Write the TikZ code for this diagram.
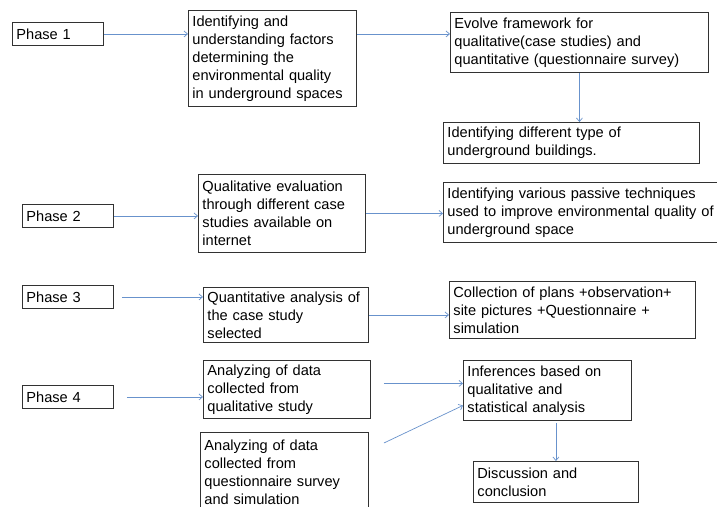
\documentclass[tikz,border=0pt]{standalone}
\usepackage{fontspec}
\setmainfont{Liberation Sans}
\definecolor{FlowBlue}{RGB}{104,146,204}
\definecolor{BoxEdge}{RGB}{50,50,50}
\usetikzlibrary{arrows.meta,positioning}
\tikzset{
	>={Straight Barb[length=3.5pt,width=6pt]},
	stage/.style={
		rectangle,
		draw=BoxEdge, line width=0.9pt,
		anchor=north west,
		align=left,
		inner xsep=4pt, inner ysep=1pt,
		font=\fontsize{14.6}{18}\selectfont},
	phasebox/.style={stage, text width=83pt, minimum height=23pt},
	flow/.style={draw=FlowBlue, line width=0.7pt, ->},
}

\begin{document}
\begin{tikzpicture}[x=1pt,y=-1pt]
\useasboundingbox[fill=white] (0,0) rectangle (717,506);
% phases
\node[phasebox] (ph1) at (12,22) {Phase 1};
\node[phasebox] (ph2) at (22,204) {Phase 2};
\node[phasebox] (ph3) at (22,285) {Phase 3};
\node[phasebox] (ph4) at (22,385) {Phase 4};
% phase 1
\node[stage, text width=160pt, minimum height=96pt] (ident) at (188,10)
	{Identifying and\\understanding factors\\determining the\\environmental quality\\in underground spaces};
\node[stage, text width=250pt, minimum height=60pt] (evolve) at (450,12)
	{Evolve framework for\\qualitative(case studies) and\\quantitative (questionnaire survey)};
\node[stage, text width=248pt, minimum height=41pt] (types) at (443,122)
	{Identifying different type of\\underground buildings.};
% phase 2
\node[stage, text width=159pt, minimum height=78pt] (qualeval) at (198,174)
	{Qualitative evaluation\\through different case\\studies available on\\internet};
\node[stage, text width=272pt, minimum height=60pt] (passive) at (443,182)
	{Identifying various passive techniques\\used to improve environmental quality of\\underground space};
% phase 3
\node[stage, text width=157pt, minimum height=55pt] (quant) at (203,287)
	{Quantitative analysis of\\the case study\\selected};
\node[stage, text width=238pt, minimum height=57pt] (collect) at (449,281)
	{Collection of plans +observation+\\site pictures +Questionnaire +\\simulation};
% phase 4
\node[stage, text width=159pt, minimum height=58pt] (anaqual) at (203,360)
	{Analyzing of data\\collected from\\qualitative study};
\node[stage, text width=160pt, minimum height=80pt] (anaquest) at (200,432)
	{Analyzing of data\\collected from\\questionnaire survey\\and simulation};
\node[stage, text width=160pt, minimum height=60pt] (infer) at (463,360)
	{Inferences based on\\qualitative and\\statistical analysis};
\node[stage, text width=157pt, minimum height=41pt] (discuss) at (473,461)
	{Discussion and\\conclusion};

\draw[flow] (ph1.east) -- (ph1.east -| ident.west);
\draw[flow] (ph1.east -| ident.east) -- (ph1.east -| evolve.west);
\draw[flow] (evolve.south) -- (evolve.south |- types.north);
\draw[flow] (ph2.east) -- (ph2.east -| qualeval.west);
\draw[flow] (qualeval.east) -- (qualeval.east -| passive.west);
\draw[flow, shorten <=8pt] (ph3.east) -- (ph3.east -| quant.west);
\draw[flow] (quant.east) -- (quant.east -| collect.west);
\draw[flow, shorten <=13pt] (ph4.east) -- (ph4.east -| anaqual.west);
\draw[flow, shorten <=13pt] ([shift={(0,-6)}]anaqual.east) -- ([shift={(0,-6)}]anaqual.east -| infer.west);
\draw[flow] ([shift={(15,11)}]anaquest.north east) -- ([shift={(0,15)}]infer.west);
\draw[flow, shorten <=2pt] (discuss.north |- infer.south) -- (discuss.north);
\end{tikzpicture}
\end{document}
